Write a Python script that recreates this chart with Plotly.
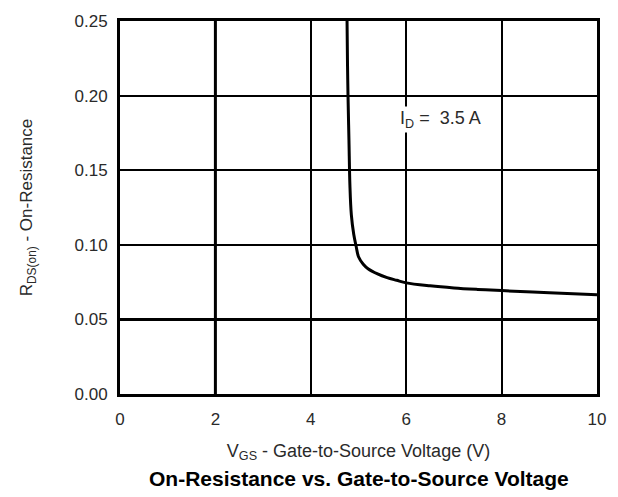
import plotly.graph_objects as go

# Data
vgs = [4.76, 4.77, 4.78, 4.80, 4.82, 4.85, 4.90, 4.95, 5.0, 5.1, 5.2, 5.4, 5.6, 5.8, 6.0, 6.5, 7.0, 7.5, 8.0, 9.0, 10.0]
rds = [0.25, 0.22, 0.20, 0.17, 0.14, 0.12, 0.107, 0.099, 0.092, 0.087, 0.084, 0.0805, 0.078, 0.0762, 0.0745, 0.0725, 0.0711, 0.0701, 0.0693, 0.0678, 0.0666]

x_ticks = [0, 2, 4, 6, 8, 10]
y_ticks = [0.00, 0.05, 0.10, 0.15, 0.20, 0.25]
heavy_x = [2]
heavy_y = [0.05]

font = "Liberation Sans, Arial, sans-serif"
txt = "#2a2a2a"

fig = go.Figure()
fig.add_trace(go.Scatter(x=vgs, y=rds, mode="lines",
                         line=dict(color="black", width=3, shape="spline"),
                         showlegend=False, hoverinfo="skip"))

shapes = []
for xv in heavy_x:
    shapes.append(dict(type="line", xref="x", yref="paper", x0=xv, x1=xv, y0=0, y1=1,
                       line=dict(color="black", width=3), layer="below"))
for yv in heavy_y:
    shapes.append(dict(type="line", xref="paper", yref="y", x0=0, x1=1, y0=yv, y1=yv,
                       line=dict(color="black", width=3), layer="below"))

fig.update_layout(
    width=618, height=497,
    margin=dict(l=120, r=21, t=15, b=103),
    plot_bgcolor="white", paper_bgcolor="white",
    font=dict(family=font, color=txt, size=17),
    shapes=shapes,
    xaxis=dict(range=[0, 10], tickvals=x_ticks, ticktext=[str(v) for v in x_ticks],
               showgrid=True, gridcolor="black", gridwidth=1.5,
               showline=True, linecolor="black", linewidth=3, mirror=True,
               ticks="", zeroline=False, ticklabelstandoff=8,
               tickfont=dict(size=17, color=txt),
               title=dict(text="V<sub>GS</sub> - Gate-to-Source Voltage (V)",
                          font=dict(size=18, color=txt), standoff=16)),
    yaxis=dict(range=[0, 0.25], tickvals=y_ticks, ticktext=[f"{v:.2f}" for v in y_ticks],
               showgrid=True, gridcolor="black", gridwidth=1.5,
               showline=True, linecolor="black", linewidth=3, mirror=True,
               ticks="", zeroline=False, ticklabelstandoff=6,
               tickfont=dict(size=17, color=txt),
               title=dict(text="R<sub>DS(on)</sub> - On-Resistance",
                          font=dict(size=17, color=txt), standoff=38)),
    annotations=[
        dict(x=6.72, y=0.184, xref="x", yref="y", showarrow=False,
             text="I<sub>D</sub> =  3.5 A", font=dict(size=18, color=txt),
             bgcolor="white"),
        dict(x=0.5, y=-0.227, xref="paper", yref="paper", showarrow=False,
             text="<b>On-Resistance vs. Gate-to-Source Voltage</b>",
             font=dict(size=21, color="black"), xanchor="center", yanchor="middle"),
    ],
)

fig.write_html("out.html")
